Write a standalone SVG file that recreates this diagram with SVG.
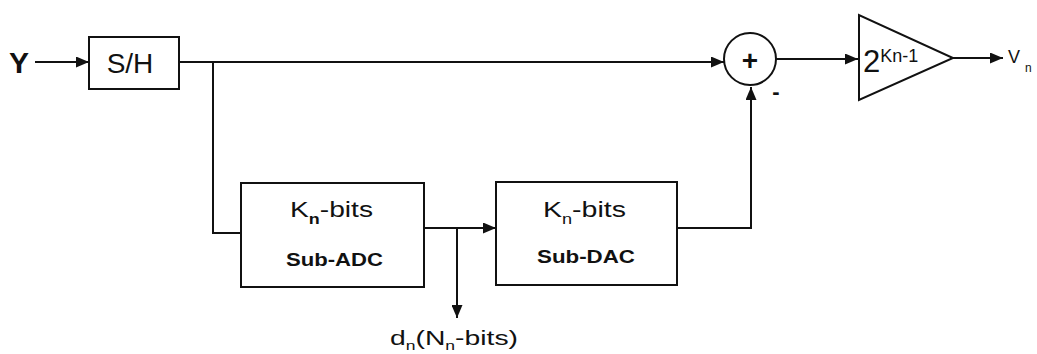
<svg xmlns="http://www.w3.org/2000/svg" width="1037" height="354" viewBox="0 0 1037 354">
<style>
.box{fill:#fff;stroke:#111;stroke-width:2}
.ln{fill:none;stroke:#111;stroke-width:2}
.t{font-family:"Liberation Sans",Arial,sans-serif;fill:#111}
.b{font-weight:bold}
</style>
<defs>
<marker id="ah" markerUnits="userSpaceOnUse" markerWidth="13" markerHeight="11" refX="13" refY="5.5" orient="auto">
<path d="M0,0 L13,5.5 L0,11 z" fill="#111"/>
</marker>
</defs>
<rect width="1037" height="354" fill="#fff"/>
<g id="connectors">
<line class="ln" x1="35" y1="62" x2="89" y2="62" marker-end="url(#ah)"/>
<line class="ln" x1="179" y1="62" x2="724" y2="62" marker-end="url(#ah)"/>
<polyline class="ln" points="213,62 213,233 241,233"/>
<line class="ln" x1="424" y1="228" x2="496" y2="228" marker-end="url(#ah)"/>
<line class="ln" x1="457" y1="228" x2="457" y2="318" marker-end="url(#ah)"/>
<polyline class="ln" points="677,228 751,228 751,87" marker-end="url(#ah)"/>
<line class="ln" x1="776" y1="59" x2="858" y2="59" marker-end="url(#ah)"/>
<line class="ln" x1="953" y1="58" x2="1003" y2="58" marker-end="url(#ah)"/>
</g>
<g id="input">
<text class="t b" x="9" y="73" font-size="30">Y</text>
</g>
<g id="sh">
<rect class="box" x="89" y="37" width="90" height="52"/>
<text class="t" x="130" y="73" font-size="28" text-anchor="middle">S/H</text>
</g>
<g id="subadc">
<rect class="box" x="241" y="183" width="183" height="104"/>
<text class="t" x="290" y="217" font-size="22" textLength="83" lengthAdjust="spacingAndGlyphs">K<tspan class="b" font-size="14" dy="7">n</tspan><tspan dy="-7">-bits</tspan></text>
<text class="t b" x="286" y="266" font-size="19" textLength="97" lengthAdjust="spacingAndGlyphs">Sub-ADC</text>
</g>
<g id="subdac">
<rect class="box" x="496" y="182" width="181" height="103"/>
<text class="t" x="543" y="217" font-size="22" textLength="83" lengthAdjust="spacingAndGlyphs">K<tspan font-size="14" dy="7">n</tspan><tspan dy="-7">-bits</tspan></text>
<text class="t b" x="537" y="263" font-size="19" textLength="98" lengthAdjust="spacingAndGlyphs">Sub-DAC</text>
</g>
<g id="sum">
<circle class="box" cx="750" cy="59" r="26"/>
<text class="t b" x="750" y="70" font-size="28" text-anchor="middle">+</text>
<text class="t b" x="776" y="99" font-size="22" text-anchor="middle">-</text>
</g>
<g id="amp">
<polygon class="box" points="859,15 859,100 953,58"/>
<text class="t" x="863" y="72" font-size="31">2<tspan font-size="18" dy="-10">Kn-1</tspan></text>
</g>
<g id="output">
<text class="t" x="1008" y="63" font-size="18">V<tspan font-size="12" dy="9" dx="5">n</tspan></text>
</g>
<g id="digital">
<text class="t" x="390" y="345" font-size="21" textLength="128" lengthAdjust="spacingAndGlyphs">d<tspan font-size="13" dy="5">n</tspan><tspan dy="-5">(N</tspan><tspan font-size="13" dy="5">n</tspan><tspan dy="-5">-bits)</tspan></text>
</g>
</svg>
